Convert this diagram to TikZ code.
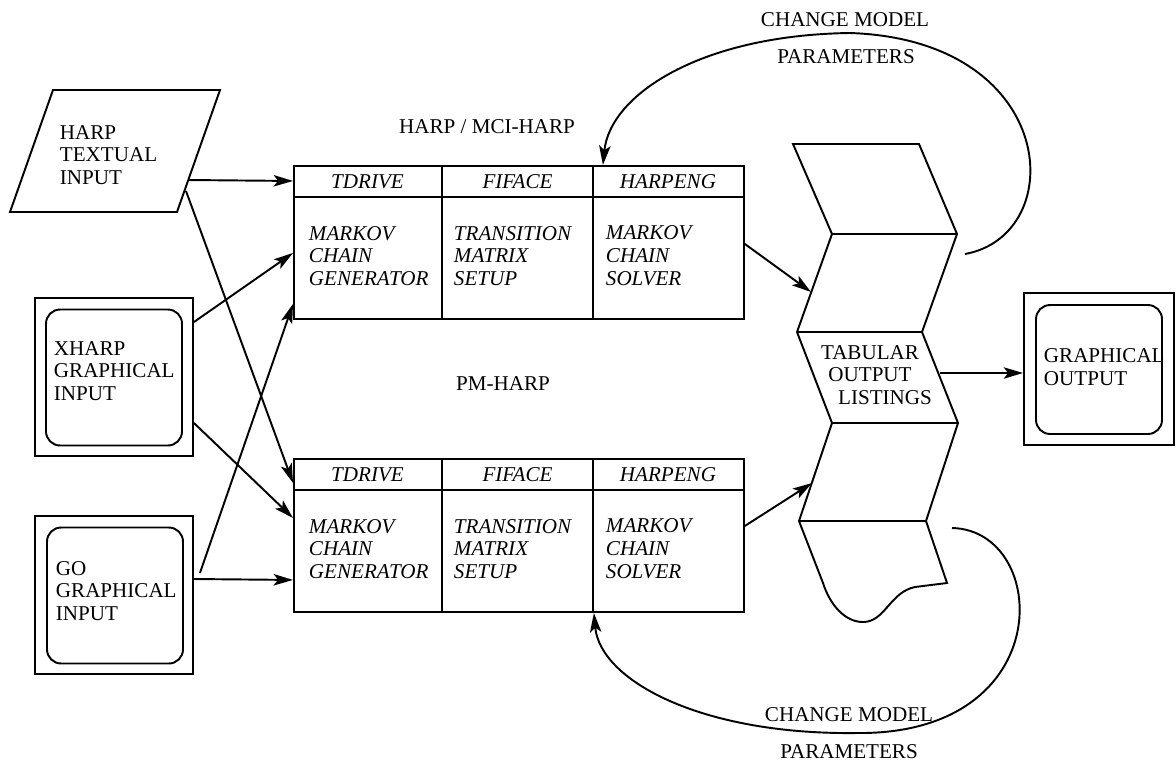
\documentclass[tikz,border=0pt]{standalone}
\usepackage{fontspec}
\setmainfont{Liberation Serif}
\usetikzlibrary{arrows.meta}

\begin{document}
\begin{tikzpicture}[x=0.02cm,y=-0.02cm,line width=1.1pt,
			>={Stealth[length=11pt,width=6.5pt,inset=2.5pt]},
			link/.style={->},
			txt/.style={font=\fontsize{12}{13}\selectfont,inner sep=0pt},
			itxt/.style={font=\fontsize{12}{13}\selectfont\itshape,inner sep=0pt},
			blk/.style={align=left,anchor=west},
			screen/.style={draw,minimum width=3.16cm,minimum height=3.16cm},
			glass/.style={draw,rounded corners=8pt,minimum width=2.72cm,minimum height=2.72cm}]
			\useasboundingbox (0,0) rectangle (1176,762);
			% inputs
			\draw (53,90) -- (220,90) -- (177,212) -- (10,212) -- cycle;
			\node[txt,blk] (textin) at (59,155) {HARP\\TEXTUAL\\INPUT};
			\coordinate (tin1) at (188,180);
			\coordinate (tin2) at (186,191);
			\node[screen] (xharp) at (114,377) {};
			\node[glass] (xharpg) at (114,377.5) {};
			\node[txt,blk] (xharpt) at (53,371) {XHARP\\GRAPHICAL\\INPUT};
			\node[screen] (go) at (114,595) {};
			\node[glass] (gog) at (115,595.5) {};
			\node[txt,blk] (got) at (55,591) {GO\\GRAPHICAL\\INPUT};
			% the two programs
			\foreach \t/\y in {top/165,bot/458} {
				\node[draw,minimum width=9cm,minimum height=3.06cm,anchor=north west,inner sep=0pt] (\t) at (293,\y) {};
				\draw ([yshift=-0.64cm]\t.north west) -- ([yshift=-0.64cm]\t.north east);
				\draw ([xshift=2.98cm]\t.north west) -- ([xshift=2.98cm]\t.south west);
				\draw ([xshift=6cm]\t.north west) -- ([xshift=6cm]\t.south west);
				\node[itxt] (\t-h1) at (367.5,\y+17) {TDRIVE};
				\node[itxt] (\t-h2) at (517.5,\y+17) {FIFACE};
				\node[itxt] (\t-h3) at (668,\y+17) {HARPENG};
				\node[itxt,blk] (\t-b1) at (308,\y+91) {MARKOV\\CHAIN\\GENERATOR};
				\node[itxt,blk] (\t-b2) at (453,\y+91) {TRANSITION\\MATRIX\\SETUP};
				\node[itxt,blk] (\t-b3) at (605,\y+91) {MARKOV\\CHAIN\\SOLVER};
			}
			\node[txt] (lmci) at (487,127) {HARP / MCI-HARP};
			\node[txt] (lpm) at (503,384) {PM-HARP};
			% folded listing
			\coordinate (p0l) at (793,144); \coordinate (p0r) at (919,144);
			\coordinate (p1l) at (832,234); \coordinate (p1r) at (957,234);
			\coordinate (p2l) at (797,332); \coordinate (p2r) at (922,332);
			\coordinate (p3l) at (832,423); \coordinate (p3r) at (958,423);
			\coordinate (p4l) at (799,521); \coordinate (p4r) at (926,521);
			\draw (p0l) -- (p0r) -- (p1r) -- (p2r) -- (p3r) -- (p4r) -- (947,583) -- (915,587)
				.. controls (890,592) and (885,622) .. (863,622)
				.. controls (845,622) and (830,605) .. (823,583) -- (p4l) -- (p3l) -- (p2l) -- (p1l) -- cycle;
			\draw (p1l) -- (p1r);
			\draw (p2l) -- (p2r);
			\draw (p3l) -- (p3r);
			\draw (p4l) -- (p4r);
			\node[txt,align=center] (tab) at (870,375) {TABULAR\\OUTPUT\\\hspace*{0.6cm}LISTINGS};
			\coordinate (pin1) at (811,292);
			\coordinate (pin2) at (812,483);
			\coordinate (pout) at (940,373);
			\coordinate (lp1) at (965,254);
			\coordinate (lp2) at (952,528);
			% output
			\node[screen,minimum width=3cm,minimum height=3.04cm] (gout) at (1099,369) {};
			\node[glass,minimum width=2.52cm,minimum height=2.58cm] (goutg) at (1099,369.5) {};
			\node[txt,blk] (goutt) at (1043,367) {GRAPHICAL\\OUTPUT};
			% connectors
			\draw[link] (tin1) -- ([yshift=1.23cm]top.west);
			\draw[link] (tin2) -- ([yshift=1.05cm]bot.west);
			\draw[link] ([yshift=1.1cm]xharp.east) -- ([yshift=-0.21cm]top.west);
			\draw[link] ([yshift=-0.92cm]xharp.east) -- ([yshift=0.35cm]bot.west);
			\draw[link] ([xshift=0.12cm,yshift=0.44cm]go.east) -- ([yshift=-1.23cm]top.west);
			\draw[link] ([yshift=0.32cm]go.east) -- ([yshift=-0.89cm]bot.west);
			\draw[link] ([yshift=-0.03cm]top.east) -- (pin1);
			\draw[link] ([yshift=0.19cm]bot.east) -- (pin2);
			\draw[link] (pout) -- (pout -| gout.west);
			\draw[link] (lp1) .. controls (1070,235) and (1060,40) .. (850,33)
				.. controls (700,35) and (610,95) .. ([xshift=1.68cm]top.north);
			\draw[link] (lp2) .. controls (1050,530) and (1060,735) .. (857,733)
				.. controls (700,735) and (600,680) .. ([xshift=1.5cm]bot.south);
			\node[txt] (cm1) at (845,20) {CHANGE MODEL};
			\node[txt] (pa1) at (846,57) {PARAMETERS};
			\node[txt] (cm2) at (849,715) {CHANGE MODEL};
			\node[txt] (pa2) at (849,752) {PARAMETERS};
		\end{tikzpicture}
\end{document}
